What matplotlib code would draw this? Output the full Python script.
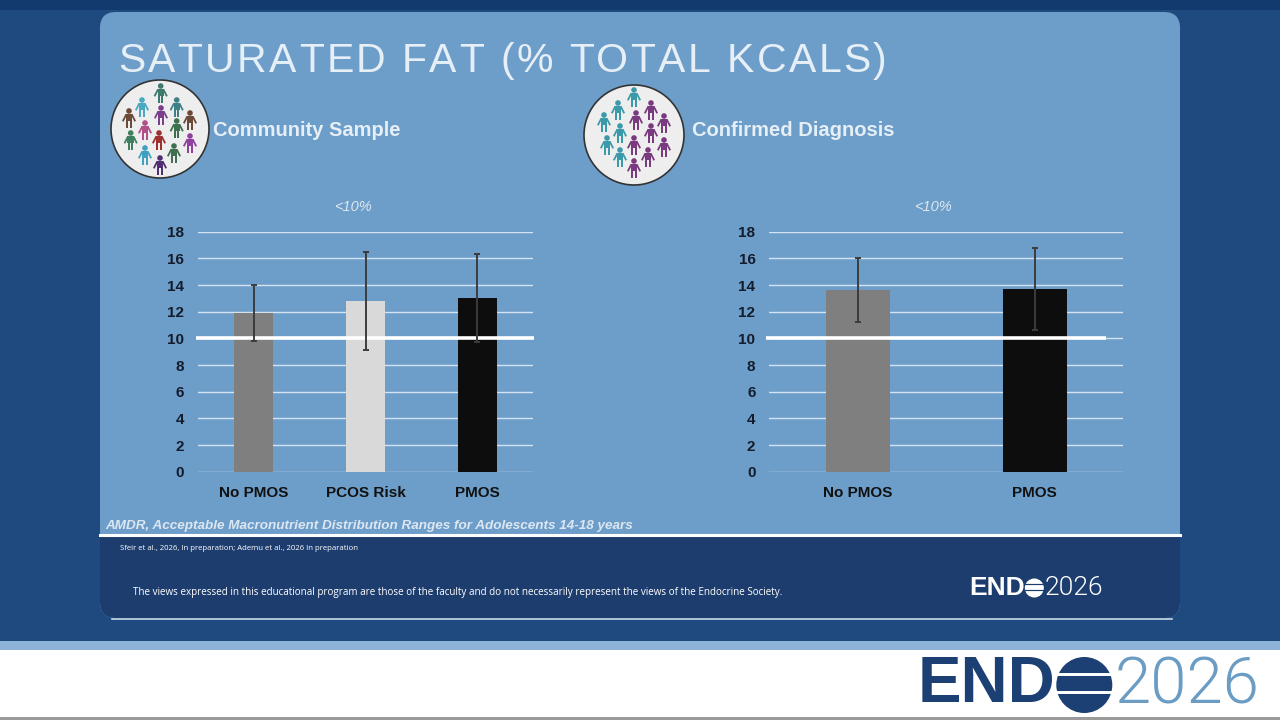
import matplotlib
matplotlib.use("Agg")
import matplotlib.pyplot as plt
from matplotlib.patches import FancyBboxPatch, Rectangle, Circle
from matplotlib.font_manager import findfont, FontProperties
from matplotlib.ft2font import FT2Font

# data
left_groups = ["No PMOS", "PCOS Risk", "PMOS"]
left_means = [11.9, 12.8, 13.0]
left_sd = [2.1, 3.7, 3.3]
left_colors = ["#7f7f7f", "#d9d9d9", "#0d0d0d"]

right_groups = ["No PMOS", "PMOS"]
right_means = [13.6, 13.7]
right_sd = [2.4, 3.1]
right_colors = ["#7f7f7f", "#0d0d0d"]

amdr_limit = 10
y_ticks = [0, 2, 4, 6, 8, 10, 12, 14, 16, 18]

PANEL = "#6d9ec9"
NAVY = "#1d3d6e"
BACK = "#1e4a80"
LIGHT = "#e6eef6"

fig = plt.figure(figsize=(12.8, 7.2), dpi=100)

# slide background, pixel coordinates
bg = fig.add_axes([0, 0, 1, 1])
bg.set_xlim(0, 1280)
bg.set_ylim(720, 0)
bg.axis("off")
bg.add_patch(Rectangle((0, 0), 1280, 642, color=BACK, lw=0, zorder=0))
bg.add_patch(Rectangle((0, 0), 1280, 10, color="#123a6e", lw=0, zorder=0))
bg.add_patch(Rectangle((0, 641), 1280, 9, color="#8db4d8", lw=0, zorder=1))
bg.add_patch(Rectangle((0, 650), 1280, 68, color="white", lw=0, zorder=1))
bg.add_patch(Rectangle((0, 717), 1280, 3, color="#9a9a9a", lw=0, zorder=1))

bg.add_patch(FancyBboxPatch((100, 12), 1080, 606, boxstyle="round,pad=0,rounding_size=16",
                            color=PANEL, lw=0, zorder=2))
bg.add_patch(FancyBboxPatch((100, 536), 1080, 82, boxstyle="round,pad=0,rounding_size=16",
                            color=NAVY, lw=0, zorder=3))
bg.add_patch(Rectangle((100, 536), 1080, 30, color=NAVY, lw=0, zorder=3))
bg.plot([100, 1180], [535, 535], color="white", lw=2.2, zorder=4)
bg.plot([112, 1172], [619, 619], color="#c9d8e8", lw=1.2, zorder=1)


# title with letter spacing
def spaced_text(x, y, s, size, track, **kw):
    fp = FontProperties(family="Liberation Sans")
    font = FT2Font(findfont(fp))
    font.set_size(size, 100)
    for ch in s:
        bg.text(x, y, ch, fontsize=size, family="Liberation Sans", ha="left",
                va="baseline", **kw)
        g = font.load_char(ord(ch))
        x += g.linearHoriAdvance / 65536 + track


spaced_text(118, 72, "SATURATED FAT (% TOTAL KCALS)", 29.5, 2.4, color=LIGHT, zorder=5)

bg.text(213, 131, "Community Sample", fontsize=14.5, fontweight="bold", color=LIGHT,
        family="Liberation Sans", va="center", zorder=5)
bg.text(692, 131, "Confirmed Diagnosis", fontsize=14.5, fontweight="bold", color=LIGHT,
        family="Liberation Sans", va="center", zorder=5)
bg.text(105, 526, "AMDR, Acceptable Macronutrient Distribution Ranges for Adolescents 14-18 years",
        fontsize=9.7, fontweight="bold", style="italic", color="#dde7f1",
        family="Liberation Sans", va="center", zorder=5)
bg.text(120, 549, "Sfeir et al., 2026, In preparation; Ademu et al., 2026 In preparation",
        fontsize=5.6, color="white", family="Open Sans", va="center", zorder=5)
bg.text(133, 592, "The views expressed in this educational program are those of the faculty "
        "and do not necessarily represent the views of the Endocrine Society.",
        fontsize=7.1, color="white", family="Open Sans", va="center", zorder=5)

# people icons
left_people = [(0.7, -36, "#3f7a6f"), (-18, -22, "#4aa8c0"), (16.7, -22, "#3f7f86"),
               (-31, -11, "#6b4a3a"), (1, -14, "#7a3f8a"), (30, -9, "#6b4a3a"),
               (-15, 1, "#b04f8a"), (16.7, -1, "#3f6f4f"), (-29.3, 11, "#3f7f5f"),
               (-1, 11, "#a03030"), (30, 14, "#9040a0"), (-15, 26, "#40a0c0"),
               (14, 24, "#407050"), (0, 36, "#503070")]
T, P = "#3a9aaa", "#7a3a80"
right_people = [(0, -38, T), (-16, -25, T), (17, -25, P), (-30, -13, T), (2, -15, P),
                (30, -12, P), (-14, -2, T), (17, -2, P), (-27, 10, T), (0, 10, P),
                (30, 12, P), (-14, 22, T), (14, 22, P), (0, 33, P)]


def draw_icon(cx, cy, r, people):
    bg.add_patch(Circle((cx, cy), r, facecolor="#eeeeee", edgecolor="#333333", lw=1.2, zorder=5))
    for dx, dy, c in people:
        x, y = cx + dx, cy + dy
        bg.add_patch(Circle((x, y - 7), 2.8, color=c, lw=0, zorder=6))
        bg.add_patch(Rectangle((x - 3.2, y - 3.8), 6.4, 7, color=c, lw=0, zorder=6))
        bg.add_patch(Rectangle((x - 2.8, y + 3), 2.1, 6.5, color=c, lw=0, zorder=6))
        bg.add_patch(Rectangle((x + 0.7, y + 3), 2.1, 6.5, color=c, lw=0, zorder=6))
        bg.plot([x - 3, x - 5.8], [y - 3, y + 2.5], color=c, lw=1.3, zorder=6)
        bg.plot([x + 3, x + 5.8], [y - 3, y + 2.5], color=c, lw=1.3, zorder=6)


draw_icon(160, 129, 49, left_people)
draw_icon(634, 135, 50, right_people)


# ENDO logos
def draw_logo(x, y, size, r, end_color, num_color, ring):
    t = bg.text(x, y, "END", fontsize=size, fontweight="bold", color=end_color,
                family="Liberation Sans", va="center", ha="left", zorder=7)
    fig.canvas.draw()
    bb = t.get_window_extent().transformed(bg.transData.inverted())
    gx = bb.x1 + r * 1.02
    bg.add_patch(Circle((gx, y), r, color=end_color, lw=0, zorder=7))
    for off in (-0.2, 0.12):
        bg.plot([gx - r * 0.98, gx + r * 0.98], [y + off * r * 2] * 2, color=ring,
                lw=size / 22, zorder=8)
    bg.text(gx + r * 1.08, y, "2026", fontsize=size, color=num_color, fontweight=300,
            family="Roboto", va="center", ha="left", zorder=7)


draw_logo(969, 588, 19, 9.5, "white", "white", NAVY)
draw_logo(918, 685, 47, 28, "#1c3f74", "#6a9cc4", "white")


def bar_panel(rect, groups, means, sd, colors, line_end, note_x):
    ax = fig.add_axes(rect)
    x = list(range(len(groups)))
    width = 0.35 if len(groups) == 3 else 0.36
    ax.bar(x, means, width=width, color=colors, zorder=2)
    ax.errorbar(x, means, yerr=sd, fmt="none", ecolor="#3c3c3c", elinewidth=1.4,
                capsize=2.5, capthick=1.4, zorder=4)
    ax.plot([-0.52, line_end], [amdr_limit, amdr_limit], color="white", lw=2.6,
            zorder=3, clip_on=False, solid_capstyle="butt")
    ax.set_xlim(-0.5, len(groups) - 0.5)
    ax.set_ylim(0, 18)
    ax.set_yticks(y_ticks)
    ax.set_xticks(x)
    ax.set_xticklabels(groups)
    ax.yaxis.grid(True, color="#d5e2ef", lw=1.0, zorder=1)
    ax.set_axisbelow(True)
    ax.patch.set_visible(False)
    for s in ax.spines.values():
        s.set_visible(False)
    ax.tick_params(length=0)
    ax.tick_params(axis="y", pad=10, labelsize=11, labelcolor="#141c2c")
    ax.tick_params(axis="x", pad=10, labelsize=11, labelcolor="#111111")
    for lab in ax.get_xticklabels() + ax.get_yticklabels():
        lab.set_fontweight("bold")
        lab.set_family("Liberation Sans")
    bg.text(note_x, 207, "<10%", fontsize=10.5, style="italic", color="#dde7f1",
            family="Liberation Sans", ha="center", va="center", zorder=5)
    return ax


bottom = (720 - 471.7) / 720
height = 240 / 720
bar_panel([198 / 1280, bottom, 335 / 1280, height], left_groups, left_means, left_sd,
          left_colors, 2.51, 353)
bar_panel([769.3 / 1280, bottom, 354 / 1280, height], right_groups, right_means, right_sd,
          right_colors, 1.405, 933)

fig.savefig("out.png", dpi=100)
